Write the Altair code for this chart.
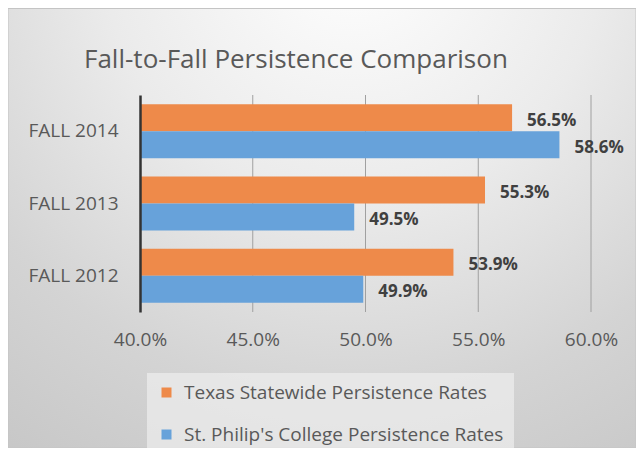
import altair as alt
import pandas as pd

years = ["FALL 2014", "FALL 2013", "FALL 2012"]
series = ["Texas Statewide Persistence Rates", "St. Philip's College Persistence Rates"]
texas_rates = [0.565, 0.553, 0.539]
spc_rates = [0.586, 0.495, 0.499]
x_ticks = [0.40, 0.45, 0.50, 0.55, 0.60]
grid_ticks = [0.45, 0.50, 0.55, 0.60]
colors = ["#EE8A4A", "#67A2DA"]
title_text = "Fall-to-Fall Persistence Comparison"

rows = []
for i, yr in enumerate(years):
    rows.append({"year": yr, "series": series[0], "rate": texas_rates[i]})
    rows.append({"year": yr, "series": series[1], "rate": spc_rates[i]})
df = pd.DataFrame(rows)

W, H = 451, 217
PAD = {"left": 132, "top": 87, "right": 45, "bottom": 136}
FONT = "Open Sans"

xscale = alt.Scale(domain=[0.4, 0.6], zero=False, nice=False)
yscale = alt.Scale(paddingInner=0.255, paddingOuter=0.128)

bg = alt.Chart(pd.DataFrame({"k": [0]})).mark_rect(
    fill=alt.RadialGradient(
        gradient="radial", x1=0.55, y1=0.05, r1=0, x2=0.55, y2=0.05, r2=1.0,
        stops=[
            alt.GradientStop(color="#ffffff", offset=0),
            alt.GradientStop(color="#ebebeb", offset=0.4),
            alt.GradientStop(color="#d4d4d4", offset=0.72),
            alt.GradientStop(color="#c6c6c6", offset=1),
        ],
    ),
    stroke="#c4c4c4", strokeWidth=1,
).encode(
    x=alt.value(-PAD["left"]), x2=alt.value(W + PAD["right"]),
    y=alt.value(-PAD["top"] + 0.5), y2=alt.value(H + PAD["bottom"]),
)

grid = alt.Chart(pd.DataFrame({"t": grid_ticks})).mark_rule(
    color="#a0a0a0", strokeWidth=1
).encode(x=alt.X("t:Q", scale=xscale))

base = alt.Chart(df).encode(
    y=alt.Y("year:N", sort=years, scale=yscale,
            axis=alt.Axis(title=None, ticks=False, grid=False, labelPadding=22,
                          domainColor="#333333", domainWidth=2.5,
                          labelFontSize=19, labelColor="#595959", labelFont=FONT,
                          zindex=1)),
    yOffset=alt.YOffset("series:N", sort=series,
                        scale=alt.Scale(paddingInner=0, paddingOuter=0)),
)

bars = base.mark_bar().encode(
    x=alt.X("rate:Q", scale=xscale,
            axis=alt.Axis(title=None, values=x_ticks, format=".1%", grid=False,
                          ticks=False, domain=False, labelPadding=18,
                          labelFlush=False,
                          labelFontSize=19, labelColor="#595959", labelFont=FONT,
                          zindex=1)),
    x2=alt.datum(0.4),
    color=alt.Color("series:N", sort=series,
                    scale=alt.Scale(domain=series, range=colors),
                    legend=alt.Legend(orient="none", legendX=7, legendY=278,
                                      title=None, direction="vertical",
                                      symbolType="square", symbolSize=100,
                                      symbolStrokeWidth=0, labelFontSize=19,
                                      labelFont=FONT, labelColor="#595959",
                                      labelOffset=8, rowPadding=22, padding=10,
                                      fillColor="rgba(238,238,238,0.7)",
                                      labelLimit=500)),
)

labels = base.mark_text(
    align="left", baseline="middle", dx=15, dy=3,
    fontSize=17, fontWeight="bold", font=FONT, color="#404040",
).encode(
    x=alt.X("rate:Q", scale=xscale),
    text=alt.Text("rate:Q", format=".1%"),
)

chart = alt.layer(bg, grid, bars, labels).properties(
    width=W, height=H,
    padding=PAD,
    autosize=alt.AutoSizeParams(type="none"),
    background="#e3e9f8",
    title=alt.TitleParams(title_text, anchor="start", frame="group", dx=-56,
                          offset=-86, baseline="alphabetic", fontSize=26,
                          font=FONT, fontWeight="normal", color="#595959"),
).configure_view(stroke=None).configure(font=FONT)

chart.save("out.html", embed_options={"renderer": "svg", "actions": False})
